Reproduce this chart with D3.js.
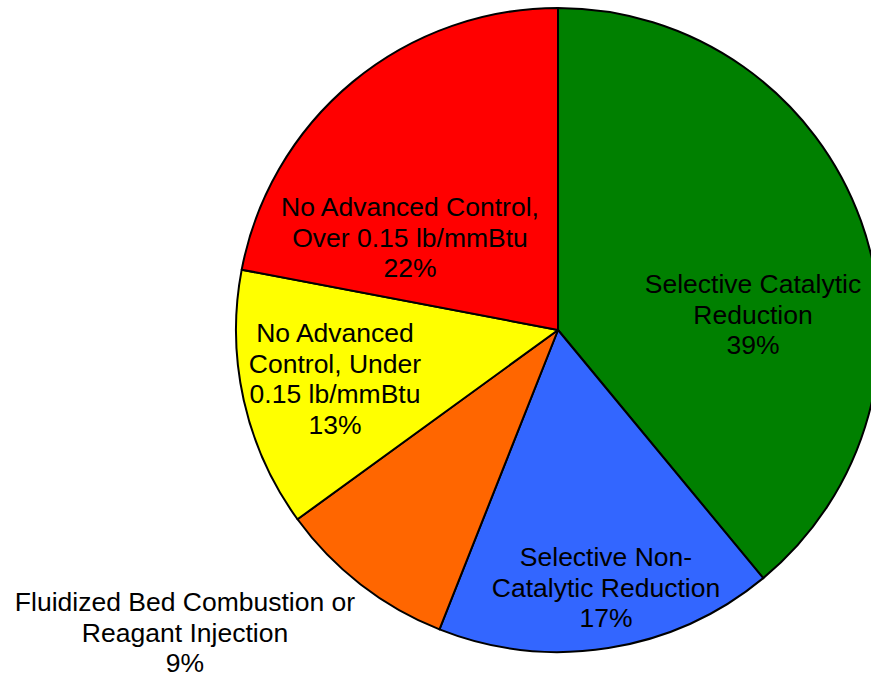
<!DOCTYPE html>
<html><head><meta charset="utf-8">
<script src="https://cdn.jsdelivr.net/npm/d3@7"></script>
<style>body{margin:0;background:#fff}svg{display:block}</style>
</head><body>
<svg id="chart" width="871" height="680"></svg>
<script>
const categories = ["Selective Catalytic Reduction", "Selective Non-Catalytic Reduction", "Fluidized Bed Combustion or Reagant Injection", "No Advanced Control, Under 0.15 lb/mmBtu", "No Advanced Control, Over 0.15 lb/mmBtu"];
const values = [39, 17, 9, 13, 22];
const colors = ["#008000", "#3366FF", "#FF6600", "#FFFF00", "#FF0000"];
const labelLines = [
  ["Selective Catalytic", "Reduction", "39%"],
  ["Selective Non-", "Catalytic Reduction", "17%"],
  ["Fluidized Bed Combustion or", "Reagant Injection", "9%"],
  ["No Advanced", "Control, Under", "0.15 lb/mmBtu", "13%"],
  ["No Advanced Control,", "Over 0.15 lb/mmBtu", "22%"]
];
// label anchor positions (center x, first baseline y)
const labelPos = [[753, 293], [606, 566], [185, 611], [335, 342], [410, 216]];

const svg = d3.select("#chart");
const cx = 558, cy = 330, r = 322;
const pie = d3.pie().sort(null).value(d => d)(values);
const arc = d3.arc().innerRadius(0).outerRadius(r);
const g = svg.append("g").attr("transform", `translate(${cx},${cy})`);
g.selectAll("path").data(pie).join("path")
  .attr("d", arc)
  .attr("fill", (d, i) => colors[i])
  .attr("stroke", "#000")
  .attr("stroke-width", 2)
  .attr("stroke-linejoin", "round");

const lh = 30.5;
labelLines.forEach((lines, i) => {
  const t = svg.append("text")
    .attr("text-anchor", "middle")
    .attr("font-family", "Arial, 'Liberation Sans', sans-serif")
    .attr("font-size", 26.5)
    .attr("fill", "#000");
  lines.forEach((ln, j) => {
    t.append("tspan").attr("x", labelPos[i][0]).attr("y", labelPos[i][1] + j * lh).text(ln);
  });
});
</script>
</body></html>
